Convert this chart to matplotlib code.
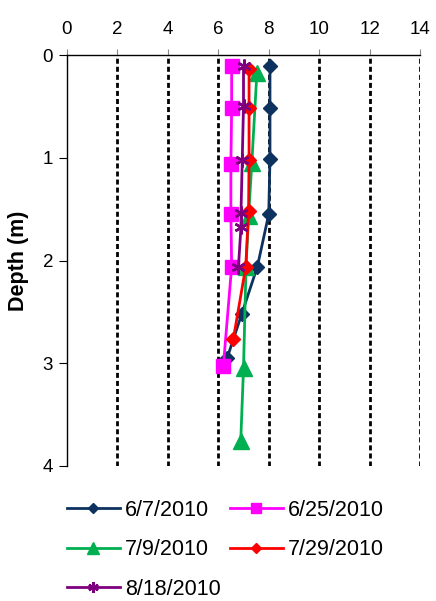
import matplotlib
matplotlib.use("Agg")
import matplotlib.pyplot as plt

plt.rcParams['font.family'] = ['Liberation Sans', 'DejaVu Sans']

# Data (depth in m, value on x axis)
d_0607 = [0.11, 0.52, 1.01, 1.55, 2.06, 2.52, 2.95]
v_0607 = [8.05, 8.05, 8.05, 8.0, 7.55, 6.93, 6.35]

d_0625 = [0.11, 0.52, 1.06, 1.55, 2.06, 3.03]
v_0625 = [6.53, 6.53, 6.5, 6.5, 6.53, 6.2]

d_0709 = [0.18, 1.05, 1.57, 2.06, 3.05, 3.76]
v_0709 = [7.53, 7.33, 7.2, 7.1, 7.0, 6.89]

d_0729 = [0.14, 0.52, 1.02, 1.52, 2.06, 2.76]
v_0729 = [7.22, 7.22, 7.22, 7.2, 7.09, 6.6]

d_0818 = [0.11, 0.50, 1.02, 1.54, 1.67, 2.06]
v_0818 = [7.0, 7.0, 6.95, 6.9, 6.9, 6.8]

labels = ["6/7/2010", "6/25/2010", "7/9/2010", "7/29/2010", "8/18/2010"]
xticks = [0, 2, 4, 6, 8, 10, 12, 14]
yticks = [0, 1, 2, 3, 4]

fig = plt.figure(figsize=(4.36, 6.01), dpi=100)
ax = fig.add_axes([67/436, 1-466/601, 353/436, 411/601])

for xv in xticks[1:]:
    ax.axvline(xv, color='black', lw=2, linestyle=(0, (1.8, 1.1)), zorder=0.5)

lw = 2
h1, = ax.plot(v_0607, d_0607, color='#0D325F', marker='D', ms=7, lw=lw, label=labels[0])
h2, = ax.plot(v_0625, d_0625, color='#FF00FF', marker='s', ms=10, lw=lw, label=labels[1])
h3, = ax.plot(v_0709, d_0709, color='#00B050', marker='^', ms=11, lw=lw, label=labels[2])
h4, = ax.plot(v_0729, d_0729, color='#FF0000', marker='D', ms=7, lw=lw, label=labels[3])
h5, = ax.plot(v_0818, d_0818, color='#7F007F', marker=(6, 2, 0), ms=10, mew=1.8, lw=lw, label=labels[4])

ax.set_xlim(0, 14)
ax.set_ylim(4, 0)
ax.set_xticks(xticks)
ax.set_yticks(yticks)
ax.xaxis.tick_top()
ax.tick_params(axis='x', direction='out', length=4, color='#888888', labelsize=13.5, pad=8)
ax.tick_params(axis='y', direction='out', length=6, color='black', labelsize=13.5, pad=4)

for s in ['right', 'bottom']:
    ax.spines[s].set_visible(False)
for s in ['left', 'top']:
    ax.spines[s].set_linewidth(1.0)
    ax.spines[s].set_color('black')

ax.set_ylabel("Depth (m)", fontsize=15.5, fontweight='bold', labelpad=10)

handles = [h1, h3, h5, h2, h4]
fig.legend(handles=handles, labels=[h.get_label() for h in handles],
           loc='upper left', bbox_to_anchor=(67/436, 1-500/601), ncol=2,
           frameon=False, fontsize=15.5, handlelength=2.45, handletextpad=0.25,
           columnspacing=0.42, labelspacing=0.85, borderaxespad=0, borderpad=0,
           markerscale=0.75)

fig.savefig("out.png", dpi=100)
